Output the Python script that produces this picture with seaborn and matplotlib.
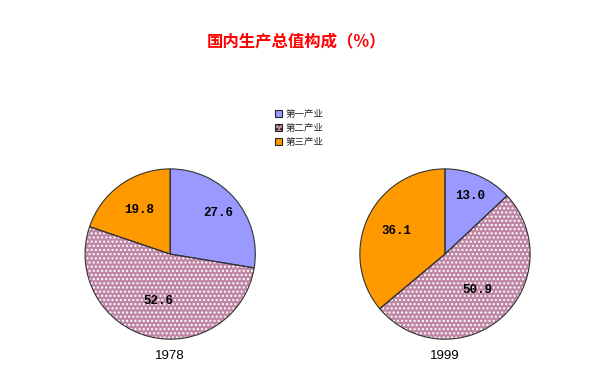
import matplotlib
matplotlib.use("Agg")
import numpy as np
import matplotlib.pyplot as plt
import seaborn as sns
from matplotlib.patches import Patch

# Data
years = ["1978", "1999"]
sectors = ["第一产业", "第二产业", "第三产业"]
shares_1978 = [27.6, 52.6, 19.8]
shares_1999 = [13.0, 50.9, 36.1]
title = "国内生产总值构成（%）"

colors = ["#9999ff", "#bf86a6", "#ff9900"]
hatches = ["", "....", ""]

sns.set_theme(style="white")
plt.rcParams["font.family"] = ["Noto Sans CJK SC", "DejaVu Sans"]

fig = plt.figure(figsize=(6, 3.69), dpi=100)
fig.patch.set_facecolor("white")


def draw_pie(ax, values, year):
    # filled wedges with white dot hatch
    wedges, _ = ax.pie(values, colors=colors, startangle=90, counterclock=False,
                       radius=1, wedgeprops=dict(edgecolor="white", linewidth=0))
    for w, h in zip(wedges, hatches):
        w.set_hatch(h)
    # outlines
    ax.pie(values, colors=["none"] * len(values), startangle=90, counterclock=False,
           radius=1, wedgeprops=dict(edgecolor="#333333", linewidth=0.8))
    # value labels
    start = 90.0
    total = sum(values)
    dists = [0.74, 0.57, 0.63]
    for v, d in zip(values, dists):
        mid = start - 360 * v / total / 2
        start -= 360 * v / total
        ax.text(d * np.cos(np.radians(mid)), d * np.sin(np.radians(mid)), f"{v:.1f}",
                ha="center", va="center", fontsize=9, fontweight="bold",
                family="Liberation Mono", color="black")
    ax.set_xlim(-1.01, 1.01)
    ax.set_ylim(-1.01, 1.01)
    ax.set_aspect("equal")
    ax.axis("off")
    ax.text(0, -1.2, year, ha="center", va="center", fontsize=9.5,
            family="Liberation Sans", color="black")


ax1 = fig.add_axes([0.1403, 0.0785, 0.2867, 0.4661])
draw_pie(ax1, shares_1978, years[0])
ax2 = fig.add_axes([0.5983, 0.0785, 0.2867, 0.4661])
draw_pie(ax2, shares_1999, years[1])

fig.text(0.495, 0.888, title, ha="center", va="center", color="#ff0000",
         fontsize=11.8, fontweight="bold")

handles = [Patch(facecolor=c, edgecolor="#222222", hatch=h, linewidth=0.8)
           for c, h in zip(colors, hatches)]
fig.legend(handles, sectors, loc="upper left", bbox_to_anchor=(0.452, 0.712),
           frameon=False, fontsize=6.8, handlelength=0.7, handleheight=0.7,
           handletextpad=0.4, labelspacing=0.5, borderaxespad=0)

fig.savefig("out.png", dpi=100, facecolor="white")
